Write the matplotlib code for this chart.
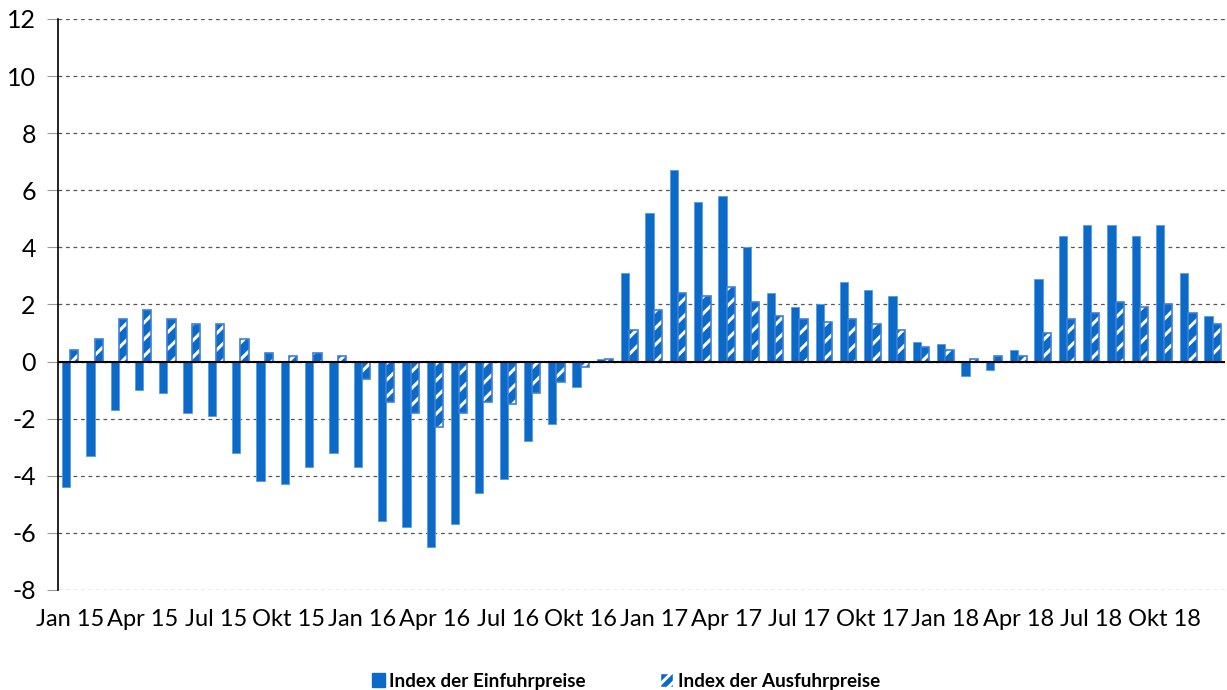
import matplotlib.pyplot as plt
import matplotlib.patches as mpatches
import numpy as np

plt.rcParams['font.family'] = ['Lato', 'DejaVu Sans']
plt.rcParams['axes.unicode_minus'] = False
plt.rcParams['hatch.linewidth'] = 2.2

# Daten: Veränderung gegenüber Vorjahresmonat in %
months = ['Jan', 'Feb', 'Mär', 'Apr', 'Mai', 'Jun', 'Jul', 'Aug', 'Sep', 'Okt', 'Nov', 'Dez']
years = ['15', '16', '17', '18']
labels = [m + ' ' + y for y in years for m in months]

einfuhr = [-4.4, -3.3, -1.7, -1.0, -1.1, -1.8, -1.9, -3.2, -4.2, -4.3, -3.7, -3.2,
           -3.7, -5.6, -5.8, -6.5, -5.7, -4.6, -4.1, -2.8, -2.2, -0.9, 0.1, 3.1,
           5.2, 6.7, 5.6, 5.8, 4.0, 2.4, 1.9, 2.0, 2.8, 2.5, 2.3, 0.7,
           0.6, -0.5, -0.3, 0.4, 2.9, 4.4, 4.8, 4.8, 4.4, 4.8, 3.1, 1.6]
ausfuhr = [0.4, 0.8, 1.5, 1.8, 1.5, 1.3, 1.3, 0.8, 0.3, 0.2, 0.3, 0.2,
           -0.6, -1.4, -1.8, -2.3, -1.8, -1.4, -1.5, -1.1, -0.7, -0.2, 0.1, 1.1,
           1.8, 2.4, 2.3, 2.6, 2.1, 1.6, 1.5, 1.4, 1.5, 1.3, 1.1, 0.5,
           0.4, 0.1, 0.2, 0.2, 1.0, 1.5, 1.7, 2.1, 1.9, 2.0, 1.7, 1.3]

blau = '#0b69c7'

fig = plt.figure(figsize=(12.27, 6.9), dpi=100)
ax = fig.add_axes([0.0473, 0.145, 0.951, 0.8275])

x = np.arange(len(labels))
w = 0.34
ax.bar(x - w / 2, einfuhr, w, color=blau, edgecolor='#5b9be0', linewidth=0.6, zorder=3)
# schraffierte Balken: blaue Fläche, weiße Schraffur, blauer Rand
ax.bar(x + w / 2, ausfuhr, w, color=blau, edgecolor='white', hatch='//', linewidth=0, zorder=3)
ax.bar(x + w / 2, ausfuhr, w, fill=False, edgecolor='#3f7fd6', linewidth=1.2, zorder=4)

ax.set_xlim(-0.5, len(labels) - 0.5)
ax.set_ylim(-8, 12)
ax.set_yticks(np.arange(-8, 13, 2))
ax.set_xticks(x[::3])
ax.set_xticklabels(labels[::3])
ax.tick_params(axis='y', length=8, color='#999999', labelsize=18, pad=8)
ax.tick_params(axis='x', length=0, labelsize=17, pad=14)

ax.grid(axis='y', linestyle=(0, (3, 3)), color='#555555', linewidth=0.9, zorder=0)
ax.axhline(0, color='black', linewidth=1.5, zorder=5)
for s in ['top', 'right', 'bottom']:
    ax.spines[s].set_visible(False)
ax.spines['left'].set_linewidth(1.2)
ax.spines['left'].set_zorder(6)

h1 = mpatches.Patch(facecolor=blau, edgecolor=blau)
h2 = mpatches.Patch(facecolor=blau, edgecolor='white', hatch='///')
fig.legend([h1, h2], ['Index der Einfuhrpreise', 'Index der Ausfuhrpreise'],
           loc='lower center', bbox_to_anchor=(0.51, -0.024), ncol=2, frameon=False,
           prop={'weight': 'bold', 'size': 13.6}, handlelength=0.7, handleheight=0.7,
           handletextpad=0.25, columnspacing=3.9)

fig.savefig('out.png', dpi=100)
